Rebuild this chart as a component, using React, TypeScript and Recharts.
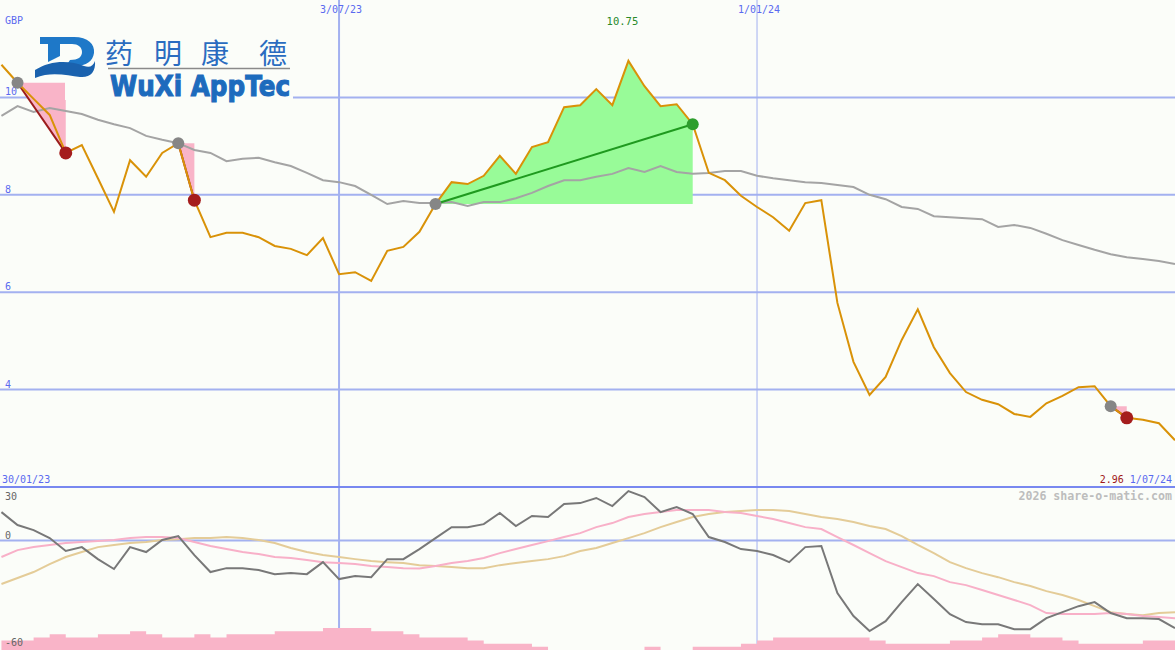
import { ComposedChart, Line, Area, XAxis, YAxis, CartesianGrid, ReferenceLine, ReferenceDot } from 'recharts'

// weekly closes (GBP), week 1 = first visible week
const price = [
  10.67, 10.3, 9.97, 9.64, 8.86, 9.02, 8.34, 7.65, 8.71, 8.37,
  8.86, 9.06, 7.89, 7.13, 7.22, 7.22, 7.13, 6.95, 6.89, 6.76,
  7.11, 6.37, 6.41, 6.23, 6.85, 6.93, 7.24, 7.81, 8.26, 8.22,
  8.39, 8.8, 8.43, 8.98, 9.08, 9.8, 9.84, 10.17, 9.84, 10.75,
  10.23, 9.82, 9.86, 9.45, 8.45, 8.3, 7.98, 7.75, 7.54, 7.26,
  7.83, 7.89, 5.78, 4.57, 3.89, 4.26, 5.02, 5.65, 4.87, 4.34,
  3.95, 3.79, 3.7, 3.5, 3.44, 3.72, 3.87, 4.05, 4.07, 3.66,
  3.42, 3.38, 3.31, 2.96,
]

const movingAvg = [
  9.62, 9.82, 9.7, 9.78, 9.72, 9.66, 9.54, 9.45, 9.37, 9.21,
  9.13, 9.06, 8.92, 8.86, 8.69, 8.74, 8.76, 8.67, 8.59, 8.45,
  8.3, 8.26, 8.18, 8.0, 7.81, 7.87, 7.83, 7.83, 7.85, 7.77,
  7.85, 7.85, 7.93, 8.04, 8.18, 8.3, 8.3, 8.37, 8.43, 8.55,
  8.47, 8.59, 8.47, 8.43, 8.45, 8.49, 8.49, 8.39, 8.34, 8.3,
  8.26, 8.24, 8.2, 8.16, 8.0, 7.91, 7.75, 7.71, 7.56, 7.54,
  7.52, 7.5, 7.34, 7.38, 7.32, 7.2, 7.07, 6.97, 6.87, 6.78,
  6.72, 6.68, 6.64, 6.58,
]

const momentum = [
  16.1, 8.8, 5.9, 1.4, -5.9, -3.7, -10.5, -16.1, -3.7, -6.5,
  0.3, 2.5, -8.2, -17.8, -15.6, -15.6, -16.7, -19.0, -18.4, -19.0,
  -12.2, -21.8, -20.1, -20.7, -10.5, -10.5, -4.8, 1.4, 7.6, 7.6,
  9.3, 15.6, 8.2, 13.9, 13.3, 20.7, 21.2, 24.1, 19.5, 28.0,
  24.6, 16.1, 19.0, 15.0, 2.0, -0.8, -4.8, -5.9, -8.2, -12.2,
  -3.7, -3.1, -29.7, -42.7, -51.2, -45.6, -34.8, -24.6, -33.1, -41.6,
  -46.1, -47.3, -47.3, -50.1, -50.1, -43.9, -40.5, -37.1, -34.8, -41.0,
  -43.9, -43.9, -44.4, -49.5,
]

const fastSignal = [
  -9.3, -5.4, -3.7, -2.5, -1.4, -0.8, -0.3, 0.3, 1.4, 2.0,
  2.0, 1.4, -0.8, -3.1, -4.8, -6.5, -7.6, -9.3, -9.9, -11.0,
  -12.2, -12.7, -13.3, -14.4, -15.0, -15.6, -15.8, -14.4, -12.7, -11.6,
  -9.9, -7.1, -4.8, -2.5, -0.3, 2.0, 4.2, 7.6, 9.9, 13.3,
  15.0, 16.1, 17.3, 17.3, 17.3, 16.1, 15.6, 13.9, 12.2, 9.9,
  7.6, 6.5, 2.0, -2.5, -7.1, -11.6, -15.0, -18.4, -20.1, -23.5,
  -25.2, -28.0, -30.8, -33.6, -36.5, -41.0, -41.6, -41.6, -41.6, -41.0,
  -41.6, -42.7, -43.3, -43.9,
]

const slowSignal = [
  -24.6, -21.2, -17.8, -13.3, -9.3, -6.5, -3.7, -2.5, -1.4, -0.8,
  0.3, 0.8, 1.4, 1.4, 2.0, 1.4, 0.3, -1.4, -4.2, -6.5,
  -8.2, -9.3, -10.5, -11.6, -12.2, -12.7, -13.9, -14.4, -15.0, -15.6,
  -15.6, -13.9, -12.7, -11.6, -10.5, -8.8, -5.9, -4.2, -1.4, 1.4,
  4.2, 7.6, 10.5, 13.3, 15.0, 16.1, 16.7, 17.3, 17.3, 16.7,
  15.0, 13.3, 12.2, 10.5, 8.2, 6.5, 2.5, -2.5, -7.1, -12.2,
  -15.6, -18.4, -20.7, -23.5, -25.7, -28.6, -30.8, -33.6, -37.1, -40.5,
  -41.6, -42.2, -41.0, -40.5,
]

const volume = [
  3, 3, 4, 5, 4, 4, 5, 5, 6, 5,
  4, 4, 5, 4, 5, 5, 5, 6, 6, 6,
  7, 7, 7, 6, 6, 5, 4, 4, 4, 3,
  2, 2, 2, 1, 0, 0, 0, 0, 0, 0,
  1, 0, 0, 1, 1, 1, 2, 3, 4, 4,
  4, 4, 4, 4, 3, 2, 2, 2, 2, 3,
  3, 4, 5, 5, 4, 4, 3, 2, 2, 2,
  2, 3, 3, 3,
]

const dateMarks = [
  { week: 22, label: '3/07/23' },
  { week: 48, label: '1/01/24' },
]
const startLabel = '30/01/23'
const endLabel = '1/07/24'
const priceTicks = [10, 8, 6, 4]

const sells = [
  { from: 2, to: 5 },
  { from: 12, to: 13 },
  { from: 70, to: 71 },
]
const buy = { from: 28, to: 44 }

const W = 1175
const TOP_H = 487
const BOT_H = 163
const X_DOMAIN: [number, number] = [0.91, 74]

const BG = '#fbfdf9'
const GRID = '#a3b1f0'
const BLUE = '#5a6af0'
const ORANGE = '#d99208'
const PINK = '#f9b4c8'
const MONO = '"DejaVu Sans Mono", monospace'

const at = (w: number) => price[w - 1]

const mainData = price.map((p, k) => {
  const w = k + 1
  const row: any = { w, price: p, ma: movingAvg[k] }
  sells.forEach((s, n) => {
    row['sell' + n] = w === s.from || w === s.to ? p : null
  })
  row.gain = w >= buy.from && w <= buy.to ? p : null
  row.trend = w === buy.from || w === buy.to ? p : null
  row.grayDot = sells.some(s => s.from === w) || w === buy.from ? p : null
  row.redDot = sells.some(s => s.to === w) ? p : null
  row.greenDot = w === buy.to ? p : null
  return row
})

const lowData = momentum.map((m, k) => ({
  w: k + 1,
  mom: m,
  fast: fastSignal[k],
  slow: slowSignal[k],
  vol: volume[k],
}))

const peak = Math.max(...price)
const peakWeek = price.indexOf(peak) + 1
const last = price[price.length - 1]

const tickLabel = (text: string) => (p: any) => {
  const vb = p.viewBox ?? {}
  return (
    <text x={(vb.x ?? 0) + 5} y={(vb.y ?? 0) - 2} fill={BLUE} fontSize={10} fontFamily={MONO}>
      {text}
    </text>
  )
}

const dateLabel = (text: string) => (p: any) => {
  const vb = p.viewBox ?? {}
  return (
    <text x={(vb.x ?? 0) + 2} y={13} textAnchor="middle" fill={BLUE} fontSize={10} fontFamily={MONO}>
      {text}
    </text>
  )
}

const peakLabel = (p: any) => {
  const vb = p.viewBox ?? {}
  return (
    <text x={(vb.x ?? 0) - 6} y={(vb.y ?? 0) - 36} textAnchor="middle" fill="#2a8a2a" fontSize={10.5} fontFamily={MONO}>
      {peak.toFixed(2)}
    </text>
  )
}

function Logo() {
  return (
    <g>
      {/* logo backdrop hides the grid line but leaves the first sell marker visible */}
      <rect x={34} y={35} width={32} height={45} fill={BG} />
      <rect x={65} y={35} width={228} height={65} fill={BG} />
      <path
        d="M40 37 H74 C88 37 95 44 94 53 C93 61 86 66 76 66 L66 66 L70 60 C78 60 82 57 82 52 C82 47 78 44 72 44 H60 V56 L48 62 V44 H40 Z"
        fill="#1e78c8"
      />
      <path
        d="M35 70 C50 60 70 60 84 66 C90 68 93 66 95 61 C96 72 90 78 80 77 C68 76 52 71 35 78 Z"
        fill="#1a62ae"
      />
      {['药', '明', '康', '德'].map((c, i) => (
        <text
          key={c}
          x={[119, 168, 215, 273][i]}
          y={64}
          textAnchor="middle"
          fontSize={28}
          fontFamily='"Noto Sans CJK SC", sans-serif'
          fill="#2a6cc0"
        >
          {c}
        </text>
      ))}
      <line x1={108} x2={290} y1={68.5} y2={68.5} stroke="#8a8a8a" strokeWidth={1.5} />
      <text
        x={110}
        y={96}
        textLength={180}
        lengthAdjust="spacingAndGlyphs"
        fontSize={29}
        fontWeight="bold"
        fontFamily='"DejaVu Sans", sans-serif'
        fill="#1d6bbd"
        stroke="#1d6bbd"
        strokeWidth={1.2}
      >
        WuXi AppTec
      </text>
    </g>
  )
}

export default function App() {
  return (
    <div style={{ position: 'relative', width: W, height: 650, background: BG, overflow: 'hidden' }}>
      <style>{'body{margin:0}'}</style>

      <div style={{ position: 'absolute', left: 0, top: 0, pointerEvents: 'none' }}>
        <ComposedChart width={W} height={TOP_H} data={mainData} margin={{ top: 0, right: 0, bottom: 0, left: 0 }}>
          <XAxis type="number" dataKey="w" domain={X_DOMAIN} hide />
          <YAxis domain={[2, 12]} hide />
          <CartesianGrid stroke={GRID} strokeWidth={2} horizontalValues={priceTicks} verticalValues={[dateMarks[0].week]} />
          <CartesianGrid stroke={GRID} strokeWidth={1} horizontal={false} verticalValues={[dateMarks[1].week]} />

          {sells.map((s, n) => (
            <Area
              key={'tri' + n}
              dataKey={'sell' + n}
              baseValue={at(s.from)}
              connectNulls
              fill={PINK}
              fillOpacity={1}
              stroke="none"
              activeDot={false}
              isAnimationActive={false}
            />
          ))}
          <Area
            dataKey="gain"
            baseValue={at(buy.from)}
            fill="#98fb98"
            fillOpacity={1}
            stroke="none"
            activeDot={false}
            isAnimationActive={false}
          />

          <Line dataKey="ma" stroke="#a4a4a4" strokeWidth={2} dot={false} activeDot={false} isAnimationActive={false} />
          {sells.map((s, n) => (
            <Line
              key={'sl' + n}
              dataKey={'sell' + n}
              connectNulls
              stroke="#9b1c1c"
              strokeWidth={2}
              dot={false}
              activeDot={false}
              isAnimationActive={false}
            />
          ))}
          <Line dataKey="trend" connectNulls stroke="#1f9a1f" strokeWidth={2} dot={false} activeDot={false} isAnimationActive={false} />
          <Line dataKey="grayDot" stroke="none" dot={{ r: 6, fill: '#868686', stroke: 'none' }} activeDot={false} isAnimationActive={false} />
          <Line dataKey="redDot" stroke="none" dot={{ r: 6.5, fill: '#a51d1d', stroke: 'none' }} activeDot={false} isAnimationActive={false} />
          <Line dataKey="greenDot" stroke="none" dot={{ r: 6, fill: '#2e9e2e', stroke: 'none' }} activeDot={false} isAnimationActive={false} />
          <Line dataKey="price" stroke={ORANGE} strokeWidth={2} dot={false} activeDot={false} isAnimationActive={false} />

          {priceTicks.map(t => (
            <ReferenceLine key={t} y={t} stroke="none" label={tickLabel(String(t))} />
          ))}
          {dateMarks.map(d => (
            <ReferenceLine key={d.label} x={d.week} stroke="none" label={dateLabel(d.label)} />
          ))}
          <ReferenceDot x={peakWeek} y={peak} r={0} fill="none" stroke="none" label={peakLabel} />
        </ComposedChart>
      </div>

      <div style={{ position: 'absolute', left: 0, top: TOP_H, pointerEvents: 'none' }}>
        <ComposedChart width={W} height={BOT_H} data={lowData} margin={{ top: 0, right: 0, bottom: 0, left: 0 }}>
          <XAxis type="number" dataKey="w" domain={X_DOMAIN} hide />
          <YAxis domain={[-61.9, 30.3]} hide />
          <YAxis yAxisId="vol" domain={[0, 52]} hide />
          <CartesianGrid stroke={GRID} strokeWidth={2} horizontalValues={[0]} verticalValues={[dateMarks[0].week]} />
          <CartesianGrid stroke={GRID} strokeWidth={1} horizontal={false} verticalValues={[dateMarks[1].week]} />
          <Area
            yAxisId="vol"
            dataKey="vol"
            type="stepAfter"
            baseValue={0}
            fill={PINK}
            fillOpacity={1}
            stroke="none"
            activeDot={false}
            isAnimationActive={false}
          />
          <Line dataKey="slow" stroke="#e4cc98" strokeWidth={2} dot={false} activeDot={false} isAnimationActive={false} />
          <Line dataKey="fast" stroke="#f8b0c8" strokeWidth={2} dot={false} activeDot={false} isAnimationActive={false} />
          <Line dataKey="mom" stroke="#787878" strokeWidth={2} dot={false} activeDot={false} isAnimationActive={false} />
        </ComposedChart>
      </div>

      <div style={{ position: 'absolute', left: 0, top: TOP_H - 1, width: W, height: 2, background: '#7888f0' }} />

      <svg width={W} height={650} style={{ position: 'absolute', left: 0, top: 0, pointerEvents: 'none' }}>
        <Logo />
        <g fontFamily={MONO} fontSize={10}>
          <text x={5} y={24} fill={BLUE}>GBP</text>
          <text x={2} y={483} fill={BLUE}>{startLabel}</text>
          <text x={1172} y={483} textAnchor="end">
            <tspan fill="#a01818">{last.toFixed(2)}</tspan>
            <tspan fill={BLUE}>{' ' + endLabel}</tspan>
          </text>
          <text x={5} y={500} fill="#666">30</text>
          <text x={5} y={539} fill="#666">0</text>
          <text x={5} y={645.5} fill="#666">-60</text>
        </g>
        <text x={1172} y={500} textAnchor="end" fontFamily={MONO} fontSize={11.6} fontWeight="bold" fill="#bdbdbd">
          2026 share-o-matic.com
        </text>
      </svg>
    </div>
  )
}
